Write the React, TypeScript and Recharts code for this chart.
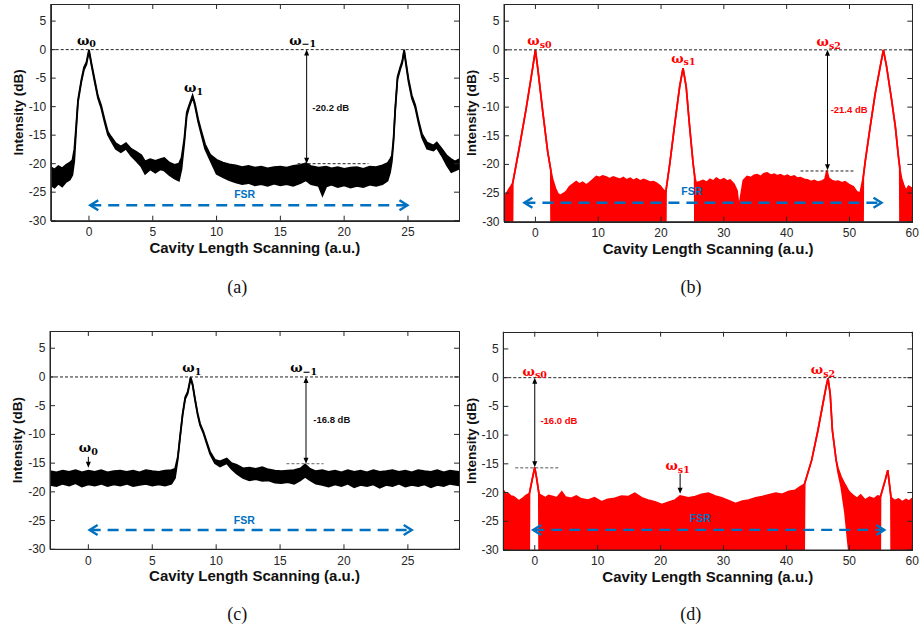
import React from "react";
import { Area, ComposedChart, ReferenceDot, ReferenceLine, XAxis, YAxis } from "recharts";

// ---- (a) ----
const aX = [-3.0, -2.7, -2.4, -2.1, -1.8, -1.5, -1.3, -1.15, -1.0, -0.86, -0.6, -0.39, -0.2, 0, 0.18, 0.44, 0.7, 0.96, 1.22, 1.48, 1.74, 2.1, 2.5, 2.9, 3.3, 3.7, 4.1, 4.4, 4.8, 5.2, 5.6, 5.9, 6.3, 6.7, 7.05, 7.25, 7.47, 7.66, 7.84, 8.0, 8.12, 8.3, 8.56, 8.82, 9.1, 9.5, 10.0, 10.5, 11.0, 11.5, 12.0, 12.5, 13.0, 13.5, 14.0, 14.5, 15.0, 15.5, 16.0, 16.6, 17.0, 17.4, 18.0, 18.3, 18.6, 19.0, 19.5, 20.0, 20.5, 21.0, 21.5, 22.0, 22.5, 23.0, 23.4, 23.6, 23.74, 23.87, 24.0, 24.18, 24.39, 24.55, 24.7, 24.83, 25.04, 25.3, 25.57, 25.83, 26.1, 26.5, 27.0, 27.26, 27.65, 28.05, 28.4, 28.7, 29.0];
const aLo = [-23.8, -24.2, -23.5, -24.0, -23.2, -22.8, -22.0, -19.5, -14.0, -9.2, -5.7, -3.5, -2.6, -0.3, -2.6, -5.6, -8.5, -10.3, -12.7, -14.9, -16.0, -17.4, -18.0, -17.4, -18.6, -19.5, -20.5, -21.8, -21.0, -21.6, -21.0, -21.2, -22.0, -22.6, -23.0, -21.0, -16.4, -11.7, -10.2, -9.2, -8.3, -9.8, -12.7, -15.0, -17.4, -19.4, -21.8, -22.4, -22.9, -23.3, -23.6, -23.4, -23.8, -23.6, -23.9, -23.5, -23.8, -23.6, -23.9, -23.4, -22.9, -23.6, -23.9, -25.6, -24.0, -23.7, -24.1, -23.8, -24.2, -23.9, -24.1, -23.7, -23.9, -23.6, -23.0, -21.5, -19.6, -16.1, -10.8, -5.2, -3.5, -2.4, -0.3, -2.4, -5.6, -8.5, -10.2, -12.9, -15.4, -17.4, -17.7, -17.2, -18.6, -20.3, -21.5, -21.2, -20.9];
const aHi = [-20.6, -21.0, -20.4, -20.8, -20.2, -19.8, -19.4, -17.5, -13.2, -8.8, -5.3, -3.1, -2.2, 0, -2.2, -5.2, -8.1, -9.8, -12.2, -14.4, -15.3, -16.4, -17.0, -16.4, -17.4, -17.9, -18.5, -19.6, -19.2, -19.5, -19.2, -19.0, -19.8, -20.2, -20.0, -19.0, -15.6, -11.0, -9.8, -8.8, -8.0, -9.4, -12.2, -14.4, -16.6, -18.4, -19.3, -19.8, -20.1, -20.3, -20.6, -20.4, -20.7, -20.5, -20.8, -20.6, -20.5, -20.7, -20.4, -20.2, -19.9, -20.4, -20.7, -20.6, -20.5, -20.8, -20.6, -20.9, -20.7, -20.6, -20.9, -20.5, -20.6, -20.3, -19.9, -19.2, -18.6, -15.5, -10.3, -4.8, -3.1, -2.0, 0, -2.0, -5.1, -8.0, -9.7, -12.4, -14.8, -16.3, -16.8, -16.3, -17.4, -18.6, -19.2, -19.6, -19.2];

// ---- (b) ----
const bX = [-5.0, -4.8, -4.5, -4.2, -3.9, -3.65, -3.6, -2.55, -1.48, -0.43, 0, 0.37, 1.17, 1.96, 2.45, 2.5, 2.76, 3.2, 3.56, 4.0, 4.6, 5.0, 5.4, 5.9, 6.5, 7.0, 7.5, 8.1, 8.6, 9.2, 9.7, 10.2, 10.7, 11.3, 11.8, 12.4, 12.9, 13.5, 14.0, 14.5, 15.1, 15.6, 16.1, 16.7, 17.2, 17.7, 18.3, 18.8, 19.3, 19.9, 20.4, 20.75, 20.8, 21.4, 22.2, 22.97, 23.5, 24.0, 24.5, 25.1, 25.35, 25.4, 25.6, 26.2, 26.7, 27.3, 27.8, 28.3, 28.8, 29.4, 30.0, 30.5, 31.0, 31.6, 32.1, 32.4, 32.7, 33.1, 33.7, 34.3, 34.8, 35.3, 35.9, 36.4, 36.9, 37.5, 38.0, 38.5, 39.0, 39.6, 40.1, 40.6, 41.2, 41.7, 42.2, 42.8, 43.3, 43.9, 44.4, 45.0, 45.6, 46.1, 46.4, 46.7, 47.2, 47.7, 48.2, 48.8, 49.3, 49.9, 50.6, 51.2, 51.7, 52.15, 52.2, 52.5, 53.3, 54.1, 54.9, 55.4, 55.9, 56.7, 57.3, 57.8, 58.0, 58.05, 58.3, 58.6, 59.0, 59.4, 60.0];
const bLo = [-32, -32, -32, -32, -32, -32, -23.2, -17.0, -10.3, -3.1, 0, -3.2, -10.8, -17.8, -21.0, -32, -32, -32, -32, -32, -32, -32, -32, -32, -32, -32, -32, -32, -32, -32, -32, -32, -32, -32, -32, -32, -32, -32, -32, -32, -32, -32, -32, -32, -32, -32, -32, -32, -32, -32, -32, -32, -24.5, -19.8, -12.8, -6.4, -3.2, -6.4, -12.8, -19.8, -22.0, -32, -32, -32, -32, -32, -32, -32, -32, -32, -32, -32, -32, -32, -32, -32, -32, -32, -32, -32, -32, -32, -32, -32, -32, -32, -32, -32, -32, -32, -32, -32, -32, -32, -32, -32, -32, -32, -32, -32, -32, -32, -32, -32, -32, -32, -32, -32, -32, -32, -32, -32, -32, -32, -22.2, -19.5, -13.4, -7.6, -2.9, 0, -2.9, -8.7, -13.4, -18.7, -20.5, -32, -32, -32, -32, -32, -32];
const bHi = [-25.9, -25.3, -24.9, -24.3, -23.8, -23.3, -23.2, -17.0, -10.3, -3.1, 0, -3.2, -10.8, -17.8, -21.0, -21.3, -22.7, -24.2, -25.1, -25.4, -25.0, -24.6, -23.9, -23.5, -23.0, -23.4, -23.1, -23.6, -23.2, -22.6, -22.1, -22.3, -22.0, -22.2, -22.5, -22.2, -22.4, -22.6, -22.3, -22.7, -22.4, -22.8, -22.5, -22.9, -22.6, -22.8, -23.1, -23.0, -23.3, -23.8, -24.5, -24.8, -24.5, -19.8, -12.8, -6.4, -3.2, -6.4, -12.8, -19.8, -22.0, -22.4, -23.2, -23.0, -22.8, -23.1, -22.6, -22.9, -22.4, -22.8, -22.5, -22.9, -22.7, -23.4, -24.6, -27.5, -25.5, -22.8, -22.1, -22.3, -21.9, -21.8, -22.1, -21.6, -21.5, -21.9, -21.7, -22.0, -21.8, -22.1, -21.9, -22.2, -22.0, -22.4, -22.3, -22.6, -22.7, -23.0, -22.8, -23.1, -22.9, -22.6, -21.1, -22.4, -22.8, -23.0, -22.9, -23.2, -23.0, -23.5, -23.9, -24.8, -25.0, -22.5, -22.2, -19.5, -13.4, -7.6, -2.9, 0, -2.9, -8.7, -13.4, -18.7, -20.5, -21.0, -22.5, -23.5, -24.6, -23.8, -24.2];

// ---- (c) ----
const cX = [-3.0, -2.5, -2.0, -1.5, -1.0, -0.5, 0.0, 0.5, 1.0, 1.5, 2.0, 2.5, 3.0, 3.5, 4.0, 4.5, 5.0, 5.5, 6.0, 6.5, 6.78, 7.0, 7.17, 7.38, 7.58, 7.77, 7.9, 8.0, 8.16, 8.35, 8.55, 8.74, 9.0, 9.26, 9.52, 9.9, 10.3, 10.83, 11.2, 11.6, 12.1, 12.6, 13.1, 13.6, 14.1, 14.6, 15.1, 15.6, 16.1, 16.6, 16.96, 17.35, 17.8, 18.3, 18.8, 19.3, 19.8, 20.3, 20.8, 21.3, 21.8, 22.3, 22.8, 23.3, 23.8, 24.3, 24.8, 25.3, 25.8, 26.3, 26.8, 27.3, 27.8, 28.3, 29.0];
const cLo = [-18.8, -19.0, -18.6, -18.9, -18.5, -19.1, -18.7, -18.9, -18.6, -19.0, -18.7, -18.9, -18.6, -19.0, -18.8, -18.6, -18.9, -18.7, -18.9, -18.6, -17.6, -14.3, -10.7, -6.6, -3.8, -2.9, -1.5, -0.3, -1.5, -4.1, -6.6, -8.4, -9.8, -11.6, -13.4, -15.0, -15.6, -15.0, -16.0, -16.8, -17.6, -18.0, -17.8, -18.1, -18.0, -18.4, -18.5, -18.3, -18.6, -18.0, -17.4, -18.0, -18.6, -18.8, -19.1, -18.7, -19.0, -18.6, -19.2, -18.8, -19.0, -18.7, -19.3, -18.8, -19.0, -18.6, -19.1, -18.8, -19.0, -18.7, -19.2, -18.8, -19.0, -18.6, -18.9];
const cHi = [-16.4, -16.6, -16.3, -16.5, -16.2, -16.6, -16.3, -16.5, -16.2, -16.6, -16.4, -16.3, -16.5, -16.3, -16.6, -16.2, -16.4, -16.5, -16.3, -16.2, -16.0, -13.9, -10.4, -6.3, -3.5, -2.6, -1.2, 0, -1.2, -3.8, -6.3, -8.1, -9.5, -11.3, -13.0, -14.4, -14.7, -14.2, -15.0, -15.3, -15.9, -15.8, -16.0, -15.7, -16.1, -16.3, -16.4, -16.3, -16.2, -15.9, -15.2, -16.0, -16.4, -16.2, -16.5, -16.3, -16.6, -16.2, -16.5, -16.3, -16.6, -16.2, -16.5, -16.4, -16.2, -16.5, -16.3, -16.6, -16.2, -16.4, -16.5, -16.2, -16.6, -16.3, -16.5];

// ---- (d) ----
const dX = [-5.0, -4.6, -4.2, -3.8, -3.4, -3.0, -2.6, -2.3, -1.9, -1.5, -1.2, -0.88, -0.84, -0.42, 0, 0.27, 0.64, 0.7, 1.2, 1.7, 2.2, 2.9, 3.5, 4.3, 4.9, 5.8, 6.6, 7.4, 8.5, 9.5, 10.6, 11.6, 12.7, 13.8, 14.9, 15.9, 17.0, 18.0, 19.1, 20.2, 21.2, 22.3, 23.1, 24.4, 25.5, 26.5, 27.6, 28.7, 29.7, 30.8, 31.9, 33.0, 34.0, 35.1, 36.1, 37.2, 38.3, 39.3, 40.4, 41.4, 42.2, 42.8, 42.9, 44.0, 45.0, 45.8, 46.3, 46.6, 46.95, 47.3, 47.9, 48.2, 48.7, 49.3, 49.8, 50.1, 50.6, 51.2, 51.8, 52.5, 53.2, 53.9, 54.5, 54.9, 54.95, 55.7, 56.1, 56.35, 56.6, 56.65, 57.2, 57.8, 58.4, 59.0, 59.5, 60.0];
const dLo = [-32, -32, -32, -32, -32, -32, -32, -32, -32, -32, -32, -32, -20.1, -17.8, -15.6, -17.3, -20.0, -32, -32, -32, -32, -32, -32, -32, -32, -32, -32, -32, -32, -32, -32, -32, -32, -32, -32, -32, -32, -32, -32, -32, -32, -32, -32, -32, -32, -32, -32, -32, -32, -32, -32, -32, -32, -32, -32, -32, -32, -32, -32, -32, -32, -32, -18.4, -14.4, -9.2, -4.5, -1.6, -0.1, -2.8, -9.2, -14.4, -16.5, -19.0, -23.5, -29.0, -32, -32, -32, -32, -32, -32, -32, -32, -32, -20.7, -17.8, -16.1, -18.4, -20.7, -32, -32, -32, -32, -32, -32, -32];
const dHi = [-19.6, -20.3, -20.2, -20.6, -20.7, -21.0, -21.4, -21.3, -21.0, -20.6, -20.4, -20.2, -20.1, -17.8, -15.6, -17.3, -20.0, -20.3, -20.6, -20.9, -20.5, -20.7, -20.9, -19.9, -20.8, -21.0, -20.6, -21.1, -21.3, -20.9, -21.6, -21.2, -21.0, -20.6, -20.7, -20.1, -20.9, -21.3, -21.6, -22.1, -21.7, -21.3, -20.6, -20.9, -20.7, -20.3, -20.1, -20.6, -20.9, -21.4, -21.9, -21.5, -21.3, -20.9, -20.7, -20.4, -20.1, -20.3, -19.8, -19.6, -19.0, -18.6, -18.4, -14.4, -9.2, -4.5, -1.6, -0.1, -2.8, -9.2, -14.4, -15.8, -17.3, -18.6, -19.6, -20.0, -20.5, -21.0, -20.4, -21.3, -20.8, -21.1, -20.6, -20.7, -20.7, -17.8, -16.1, -18.4, -20.7, -20.9, -21.4, -21.1, -21.6, -21.2, -21.5, -21.0];

const shortTicks = [0, 5, 10, 15, 20, 25];
const longTicks = [0, 10, 20, 30, 40, 50, 60];
const yTicks = [-30, -25, -20, -15, -10, -5, 0, 5];
const yDomain: [number, number] = [-30, 8];

const toRows = (xs: number[], lo: number[], hi: number[]) =>
  xs.map((x, i) => ({ x, band: [lo[i], hi[i]] }));

const SANS = "'Liberation Sans', Arial, Helvetica, sans-serif";
const SERIF = "'Liberation Serif', 'Times New Roman', serif";
const GREEK = "'DejaVu Serif', 'Liberation Serif', serif";
const AXIS = "#262626";
const BLUE = "#0070C0";
const RED = "#ff0000";
const TICK = 5;

const XTitle = ({ cx, cy }: any) => (
  <text x={cx} y={cy} textAnchor="middle" dominantBaseline="central"
    fontFamily={SANS} fontWeight="bold" fontSize={15} fill="#111">
    Cavity Length Scanning (a.u.)
  </text>
);

const YTitle = ({ cx, cy }: any) => (
  <text x={cx} y={cy} transform={`rotate(-90 ${cx} ${cy})`} textAnchor="middle" dominantBaseline="central"
    fontFamily={SANS} fontWeight="bold" fontSize={13.5} fill="#111">
    Intensity (dB)
  </text>
);

// x tick: label under the box, inward marks on the bottom and top edges
const xTick = (top: number, bottom: number) => (props: any) => (
  <g>
    <line x1={props.x} x2={props.x} y1={bottom} y2={bottom - TICK} stroke={AXIS} strokeWidth={1} />
    <line x1={props.x} x2={props.x} y1={top} y2={top + TICK} stroke={AXIS} strokeWidth={1} />
    <text x={props.x} y={bottom + 11.3} textAnchor="middle" dominantBaseline="central"
      fill={AXIS} fontFamily={SANS} fontSize={12}>
      {props.payload.value}
    </text>
  </g>
);

// y tick: label left of the box, inward marks on the left and right edges
const yTick = (left: number, right: number) => (props: any) => (
  <g>
    <line x1={left} x2={left + TICK} y1={props.y} y2={props.y} stroke={AXIS} strokeWidth={1} />
    <line x1={right} x2={right - TICK} y1={props.y} y2={props.y} stroke={AXIS} strokeWidth={1} />
    <text x={left - 4.5} y={props.y} textAnchor="end" dominantBaseline="central"
      fill={AXIS} fontFamily={SANS} fontSize={12}>
      {props.payload.value}
    </text>
  </g>
);

const omega = (sub: string, color: string) => (p: any) => (
  <text x={p.cx} y={p.cy} textAnchor="middle" dominantBaseline="central" fill={color}
    fontFamily={GREEK} fontWeight="bold" fontSize={13}>
    ω<tspan fontSize={9.5} dy={3}>{sub}</tspan>
  </text>
);

const note = (txt: string, color: string, anchor: "start" | "middle", size: number) => (p: any) => (
  <text x={p.cx} y={p.cy} textAnchor={anchor} dominantBaseline="central" fill={color}
    fontFamily={SANS} fontWeight="bold" fontSize={size}>
    {txt}
  </text>
);

const vArrow = (both: boolean) => (p: any) => {
  const x = p.x1;
  const top = Math.min(p.y1, p.y2);
  const bot = Math.max(p.y1, p.y2);
  return (
    <g>
      <line x1={x} y1={top + (both ? 4 : 0)} x2={x} y2={bot - 4} stroke="#000" strokeWidth={1} />
      {both && <polygon points={`${x},${top} ${x - 2.5},${top + 6} ${x + 2.5},${top + 6}`} fill="#000" />}
      <polygon points={`${x},${bot} ${x - 2.5},${bot - 6} ${x + 2.5},${bot - 6}`} fill="#000" />
    </g>
  );
};

const fsrArrow = (p: any) => {
  const l = Math.min(p.x1, p.x2);
  const r = Math.max(p.x1, p.x2);
  const y = p.y1;
  return (
    <g stroke={BLUE} strokeWidth={2.4} fill="none">
      <line x1={l} y1={y} x2={r} y2={y} strokeDasharray="11 7" />
      <polyline points={`${l + 8},${y - 5} ${l},${y} ${l + 8},${y + 5}`} />
      <polyline points={`${r - 8},${y - 5} ${r},${y} ${r - 8},${y + 5}`} />
    </g>
  );
};

interface PanelProps {
  ox: number;
  oy: number;
  L: number;
  T: number;
  R: number;
  B: number;
  xDomain: [number, number];
  xTicks: number[];
  rows: { x: number; band: number[] }[];
  color: string;
  children?: React.ReactNode;
}

const W = 460;
const H = 300;
const XH = 45;

const Panel = (p: PanelProps) => {
  const margin = { top: p.T - p.oy, right: p.ox + W - p.R, bottom: p.oy + H - XH - p.B, left: 0 };
  const left = p.L - p.ox;
  const right = p.R - p.ox;
  const top = p.T - p.oy;
  const bottom = p.B - p.oy;
  const bx = Math.round(left);
  const by = Math.round(top);
  return (
    <div style={{ position: "absolute", left: p.ox, top: p.oy, width: W, height: H }}>
      <ComposedChart width={W} height={H} margin={margin} data={p.rows}>
        <XAxis type="number" dataKey="x" domain={p.xDomain} ticks={p.xTicks} allowDataOverflow interval={0}
          height={XH} tickSize={0} tickLine={false} axisLine={{ stroke: AXIS }} tick={xTick(top, bottom)}
          label={<XTitle cx={(left + right) / 2} cy={bottom + 26.5} />} />
        <YAxis type="number" domain={yDomain} ticks={yTicks} allowDataOverflow interval={0} width={left}
          tickSize={0} tickLine={false} axisLine={{ stroke: AXIS }} tick={yTick(left, right)}
          label={<YTitle cx={left - 32} cy={(top + bottom) / 2} />} />
        <Area type="linear" dataKey="band" stroke={p.color} strokeWidth={1.7} fill={p.color} fillOpacity={1}
          dot={false} activeDot={false} isAnimationActive={false} />
        <ReferenceLine y={0} stroke="#222" strokeDasharray="3 2" strokeWidth={1} />
        {p.children}
      </ComposedChart>
      {/* box outline around the plot area */}
      <div style={{ position: "absolute", left: bx, top: by, width: Math.round(right) - bx + 1, height: Math.round(bottom) - by + 1,
        border: `1px solid ${AXIS}`, boxSizing: "border-box", pointerEvents: "none" }} />
    </div>
  );
};

const Caption = ({ x, y, text }: { x: number; y: number; text: string }) => (
  <div style={{ position: "absolute", left: x - 30, top: y - 12, width: 60, height: 24, lineHeight: "24px",
    textAlign: "center", fontFamily: SERIF, fontSize: 18, color: "#111" }}>
    {text}
  </div>
);

export default function App() {
  return (
    <div style={{ position: "absolute", left: 0, top: 0, width: 921, height: 628, background: "#fff", overflow: "hidden" }}>
      <Panel ox={0} oy={0} L={50.7} T={4} R={459} B={220.7} xDomain={[-3, 29]} xTicks={shortTicks}
        rows={toRows(aX, aLo, aHi)} color="#000">
        <ReferenceLine segment={[{ x: 16.35, y: -20 }, { x: 21.9, y: -20 }]} stroke="#222" strokeDasharray="3 2" />
        <ReferenceLine segment={[{ x: 17.06, y: 0 }, { x: 17.06, y: -20 }]} shape={vArrow(true)} />
        <ReferenceLine segment={[{ x: 0.1, y: -27.3 }, { x: 24.96, y: -27.3 }]} shape={fsrArrow} />
        <ReferenceDot x={-0.2} y={1.6} shape={omega("0", "#000")} />
        <ReferenceDot x={8.2} y={-6.65} shape={omega("1", "#000")} />
        <ReferenceDot x={16.75} y={1.6} shape={omega("−1", "#000")} />
        <ReferenceDot x={17.5} y={-10.15} shape={note("-20.2 dB", "#111", "start", 9.5)} />
        <ReferenceDot x={12.2} y={-25.4} shape={note("FSR", BLUE, "middle", 10.5)} />
      </Panel>

      <Panel ox={460} oy={0} L={504} T={4} R={912.3} B={221.7} xDomain={[-5, 60]} xTicks={longTicks}
        rows={toRows(bX, bLo, bHi)} color={RED}>
        <ReferenceLine segment={[{ x: 42.2, y: -21.15 }, { x: 50.9, y: -21.15 }]} stroke="#222" strokeDasharray="3 2" />
        <ReferenceLine segment={[{ x: 46.5, y: 0 }, { x: 46.5, y: -21 }]} shape={vArrow(true)} />
        <ReferenceLine segment={[{ x: -1.75, y: -26.7 }, { x: 55.1, y: -26.7 }]} shape={fsrArrow} />
        <ReferenceDot x={0.64} y={1.6} shape={omega("s0", RED)} />
        <ReferenceDot x={23.55} y={-1.45} shape={omega("s1", RED)} />
        <ReferenceDot x={46.7} y={1.45} shape={omega("s2", RED)} />
        <ReferenceDot x={47} y={-10.5} shape={note("-21.4 dB", RED, "start", 9.5)} />
        <ReferenceDot x={24.9} y={-24.6} shape={note("FSR", BLUE, "middle", 10.5)} />
      </Panel>

      <Panel ox={0} oy={310} L={50} T={331} R={459} B={549.3} xDomain={[-3, 29]} xTicks={shortTicks}
        rows={toRows(cX, cLo, cHi)} color="#000">
        <ReferenceLine segment={[{ x: 15.5, y: -15.1 }, { x: 18.4, y: -15.1 }]} stroke="#666" strokeDasharray="3 2" />
        <ReferenceLine segment={[{ x: 17.03, y: 0 }, { x: 17.03, y: -15.1 }]} shape={vArrow(true)} />
        <ReferenceLine segment={[{ x: 0, y: -13.9 }, { x: 0, y: -15.8 }]} shape={vArrow(false)} />
        <ReferenceLine segment={[{ x: 0.1, y: -26.65 }, { x: 25.3, y: -26.65 }]} shape={fsrArrow} />
        <ReferenceDot x={8.1} y={1.6} shape={omega("1", "#000")} />
        <ReferenceDot x={16.85} y={1.6} shape={omega("−1", "#000")} />
        <ReferenceDot x={0} y={-12.3} shape={omega("0", "#000")} />
        <ReferenceDot x={17.6} y={-7.35} shape={note("-16.8 dB", "#111", "start", 9.5)} />
        <ReferenceDot x={12.2} y={-24.9} shape={note("FSR", BLUE, "middle", 10.5)} />
      </Panel>

      <Panel ox={460} oy={310} L={503.3} T={331.7} R={912.3} B={550} xDomain={[-5, 60]} xTicks={longTicks}
        rows={toRows(dX, dLo, dHi)} color={RED}>
        <ReferenceLine segment={[{ x: -3.1, y: -15.7 }, { x: 3.9, y: -15.7 }]} stroke="#555" strokeDasharray="3 2" />
        <ReferenceLine segment={[{ x: 0, y: 0 }, { x: 0, y: -15.6 }]} shape={vArrow(true)} />
        <ReferenceLine segment={[{ x: 23.1, y: -16.7 }, { x: 23.1, y: -20.2 }]} shape={vArrow(false)} />
        <ReferenceLine segment={[{ x: -0.25, y: -26.5 }, { x: 55.55, y: -26.5 }]} shape={fsrArrow} />
        <ReferenceDot x={0} y={1.15} shape={omega("s0", RED)} />
        <ReferenceDot x={22.7} y={-15.35} shape={omega("s1", RED)} />
        <ReferenceDot x={45.8} y={1.4} shape={omega("s2", RED)} />
        <ReferenceDot x={0.9} y={-7.5} shape={note("-16.0 dB", RED, "start", 9.5)} />
        <ReferenceDot x={26.3} y={-24.5} shape={note("FSR", BLUE, "middle", 10.5)} />
      </Panel>

      <Caption x={237.3} y={287.3} text="(a)" />
      <Caption x={691} y={287.3} text="(b)" />
      <Caption x={237.3} y={614} text="(c)" />
      <Caption x={690.7} y={614} text="(d)" />
    </div>
  );
}
